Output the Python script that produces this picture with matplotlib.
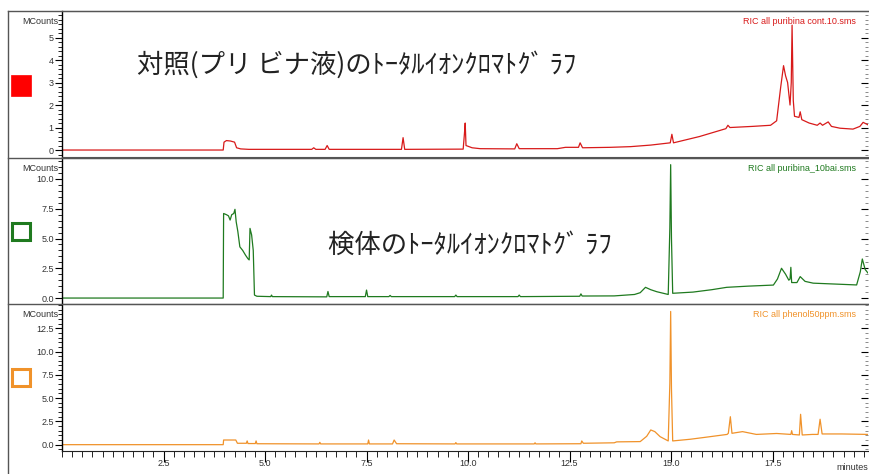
import matplotlib
matplotlib.use("Agg")
import matplotlib.pyplot as plt
from matplotlib.lines import Line2D
from matplotlib.patches import Rectangle
from matplotlib.ticker import MultipleLocator, FixedLocator

plt.rcParams['font.family'] = ['Noto Sans CJK JP', 'DejaVu Sans']

# --- data (minutes, MCounts) ---
ctrl_t = [0.0, 3.97, 3.99, 4.05, 4.15, 4.25, 4.30, 4.40, 4.6, 6.15, 6.2, 6.25, 6.48, 6.53, 6.58,
          8.36, 8.40, 8.44, 9.88, 9.91, 9.93, 9.95, 10.1, 10.3, 11.15, 11.2, 11.26, 12.2, 12.4,
          12.72, 12.76, 12.82, 13.5, 14.0, 14.5, 14.98, 15.02, 15.06, 15.7, 16.35, 16.4, 16.45,
          17.0, 17.45, 17.6, 17.7, 17.77, 17.82, 17.87, 17.93, 17.96, 17.98, 18.01, 18.04, 18.15,
          18.18, 18.22, 18.4, 18.6, 18.67, 18.73, 18.87, 18.95, 19.16, 19.48, 19.65, 19.73, 19.85]
ctrl_v = [0.0, 0.0, 0.35, 0.42, 0.40, 0.35, 0.10, 0.05, 0.03, 0.03, 0.1, 0.03, 0.03, 0.2, 0.03,
          0.03, 0.55, 0.03, 0.04, 0.7, 1.2, 0.2, 0.1, 0.06, 0.05, 0.28, 0.06, 0.06, 0.12,
          0.12, 0.32, 0.1, 0.12, 0.15, 0.22, 0.32, 0.7, 0.32, 0.6, 0.95, 1.1, 1.0,
          1.05, 1.1, 1.3, 2.8, 3.75, 3.3, 3.0, 2.0, 3.0, 5.55, 2.2, 1.5, 1.45,
          1.7, 1.35, 1.2, 1.1, 1.2, 1.1, 1.25, 1.05, 0.97, 0.93, 1.05, 1.23, 1.12]

sample_t = [0.0, 3.97, 3.98, 4.05, 4.10, 4.14, 4.18, 4.23, 4.26, 4.29, 4.33, 4.38, 4.45, 4.52,
            4.58, 4.61, 4.63, 4.67, 4.71, 4.74, 4.80, 5.14, 5.16, 5.18, 6.52, 6.55, 6.58, 7.47,
            7.5, 7.53, 8.05, 8.08, 8.11, 9.67, 9.7, 9.73, 11.23, 11.26, 11.29, 12.75, 12.78,
            12.81, 13.6, 14.1, 14.24, 14.37, 14.5, 14.65, 14.93, 14.97, 14.99, 15.01, 15.04,
            15.54, 16.0, 16.37, 16.9, 17.52, 17.62, 17.72, 17.82, 17.9, 17.93, 17.95, 17.97,
            18.1, 18.18, 18.3, 18.5, 19.0, 19.57, 19.66, 19.71, 19.78, 19.85]
sample_v = [0.0, 0.0, 7.1, 7.0, 6.9, 6.55, 7.0, 7.1, 7.45, 6.4, 5.6, 4.3, 4.0, 3.6,
            3.3, 3.2, 5.85, 5.3, 4.0, 0.25, 0.15, 0.12, 0.25, 0.12, 0.1, 0.55, 0.12, 0.12,
            0.67, 0.12, 0.12, 0.22, 0.12, 0.12, 0.25, 0.12, 0.12, 0.25, 0.12, 0.15, 0.35,
            0.17, 0.18, 0.3, 0.45, 0.9, 0.7, 0.53, 0.3, 5.9, 11.2, 5.0, 0.4,
            0.5, 0.7, 0.9, 1.0, 1.09, 1.6, 2.5, 2.0, 1.5, 1.6, 2.58, 1.3,
            1.3, 1.8, 1.4, 1.25, 1.18, 1.1, 2.2, 3.28, 2.4, 2.1]

phenol_t = [0.0, 3.97, 3.98, 4.28, 4.32, 4.54, 4.56, 4.58, 4.76, 4.78, 4.80, 6.33, 6.35, 6.37,
            7.53, 7.55, 7.57, 8.14, 8.18, 8.24, 9.68, 9.7, 9.72, 11.63, 11.65, 11.67, 12.78,
            12.8, 12.84, 13.6, 13.66, 14.24, 14.4, 14.5, 14.6, 14.73, 14.93, 14.97, 14.99,
            15.01, 15.04, 15.47, 15.86, 16.38, 16.41, 16.46, 16.50, 16.76, 17.1, 17.6, 17.95,
            17.97, 17.99, 18.16, 18.19, 18.23, 18.48, 18.62, 18.67, 18.72, 19.2, 19.85]
phenol_v = [0.0, 0.0, 0.5, 0.5, 0.15, 0.15, 0.4, 0.12, 0.12, 0.4, 0.1, 0.08, 0.25, 0.08,
            0.08, 0.5, 0.08, 0.08, 0.5, 0.1, 0.08, 0.22, 0.08, 0.08, 0.2, 0.08, 0.1,
            0.4, 0.15, 0.2, 0.3, 0.33, 0.9, 1.58, 1.4, 0.86, 0.4, 6.6, 14.3,
            6.0, 0.4, 0.58, 0.8, 1.1, 1.22, 3.0, 1.22, 1.4, 1.1, 1.2, 1.1,
            1.5, 1.1, 1.04, 3.26, 1.04, 1.1, 1.1, 2.73, 1.15, 1.15, 1.1]

files = ['RIC all puribina cont.10.sms', 'RIC all puribina_10bai.sms', 'RIC all phenol50ppm.sms']
colors = ['#d81a1a', '#1f7a1f', '#f0922a']
ctrl_yticks = [0, 1, 2, 3, 4, 5]
sample_yticks = [0.0, 2.5, 5.0, 7.5, 10.0]
phenol_yticks = [0.0, 2.5, 5.0, 7.5, 10.0, 12.5]
x_ticks = [2.5, 5.0, 7.5, 10.0, 12.5, 15.0, 17.5]

W, H = 870, 474
fig = plt.figure(figsize=(W / 100, H / 100), dpi=100)

def px(x0, y0, x1, y1):
    return [x0 / W, 1 - y1 / H, (x1 - x0) / W, (y1 - y0) / H]

panels = [
    (px(62, 11, 868, 157), ctrl_t, ctrl_v, (-0.31, 6.18), ctrl_yticks, 0.2, '%d'),
    (px(62, 158, 868, 304), sample_t, sample_v, (-0.5, 11.76), sample_yticks, 0.5, '%.1f'),
    (px(62, 304, 868, 451), phenol_t, phenol_v, (-0.68, 15.1), phenol_yticks, 0.5, '%.1f'),
]

axes = []
for i, (rect, t, v, ylim, yticks, minor, fmt) in enumerate(panels):
    ax = fig.add_axes(rect)
    ax.plot(t, v, color=colors[i], lw=0.9)
    ax.set_xlim(0, 19.85)
    ax.set_ylim(*ylim)
    ax.yaxis.set_major_locator(FixedLocator(yticks))
    ax.yaxis.set_minor_locator(MultipleLocator(minor))
    ax.set_yticklabels([fmt % y for y in yticks], family='Liberation Sans')
    ax.tick_params(axis='y', which='major', length=5, width=0.8, labelsize=6.5,
                   labelcolor='#333333', pad=1, direction='out')
    ax.tick_params(axis='y', which='minor', length=3, width=0.6)
    for s in ['top', 'bottom']:
        ax.spines[s].set_color('#555555')
    ax.spines['right'].set_visible(False)
    ax.spines['left'].set_linewidth(1.0)

    # inward ticks on the right edge
    sec = ax.secondary_yaxis('right')
    sec.spines['right'].set_visible(False)
    sec.yaxis.set_major_locator(FixedLocator(yticks))
    sec.yaxis.set_minor_locator(MultipleLocator(minor))
    sec.tick_params(which='major', direction='in', length=5, width=0.8, labelright=False)
    sec.tick_params(which='minor', direction='in', length=2, width=0.6, colors='#777777')

    ax.text(-0.005, 0.93, 'MCounts', transform=ax.transAxes, ha='right', va='center',
            fontsize=6.5, color='#333333', family='Liberation Sans')
    ax.text(0.985, 0.93, files[i], transform=ax.transAxes, ha='right', va='center',
            fontsize=6.5, color=colors[i], family='Liberation Sans')
    if i < 2:
        ax.set_xticks([])
    axes.append(ax)

bot = axes[2]
bot.xaxis.set_major_locator(FixedLocator(x_ticks))
bot.xaxis.set_minor_locator(MultipleLocator(0.25))
bot.set_xticklabels(['%.1f' % x for x in x_ticks], family='Liberation Sans')
bot.tick_params(axis='x', which='major', length=8, width=0.8, labelsize=6.5,
                labelcolor='#333333', pad=-2)
bot.tick_params(axis='x', which='minor', length=4, width=0.6)
bot.spines['bottom'].set_color('#222222')
fig.text(868 / W, 1 - 467 / H, 'minutes', ha='right', va='center', fontsize=6.5,
         color='#333333', family='Liberation Sans')

# outer frame lines
for y in [11, 157.5, 304]:
    fig.add_artist(Line2D([8 / W, 868 / W], [1 - y / H, 1 - y / H], color='#555555', lw=1.0))
fig.add_artist(Line2D([8 / W, 8 / W], [1 - 11 / H, 0], color='#555555', lw=1.0))

# colour squares
fig.add_artist(Rectangle((11 / W, 1 - 95.5 / H), 20 / W, 20 / H, facecolor='#ff0000',
                         edgecolor='#ff0000', lw=0.5, transform=fig.transFigure))
fig.add_artist(Rectangle((12.5 / W, 1 - 240 / H), 17.5 / W, 17.5 / H, facecolor='none',
                         edgecolor='#1f7a1f', lw=2.2, transform=fig.transFigure))
fig.add_artist(Rectangle((12.5 / W, 1 - 386 / H), 17.5 / W, 17.5 / H, facecolor='none',
                         edgecolor='#f0922a', lw=2.2, transform=fig.transFigure))

# Japanese annotations
fig.text(137 / W, 1 - 65 / H, '対照(プリ ビナ液)のﾄｰﾀﾙｲｵﾝｸﾛﾏﾄｸﾞ ﾗﾌ', ha='left', va='center',
         fontsize=19, color='#222222')
fig.text(328 / W, 1 - 245 / H, '検体のﾄｰﾀﾙｲｵﾝｸﾛﾏﾄｸﾞ ﾗﾌ', ha='left', va='center',
         fontsize=19, color='#222222')

fig.savefig('out.png', dpi=100)
